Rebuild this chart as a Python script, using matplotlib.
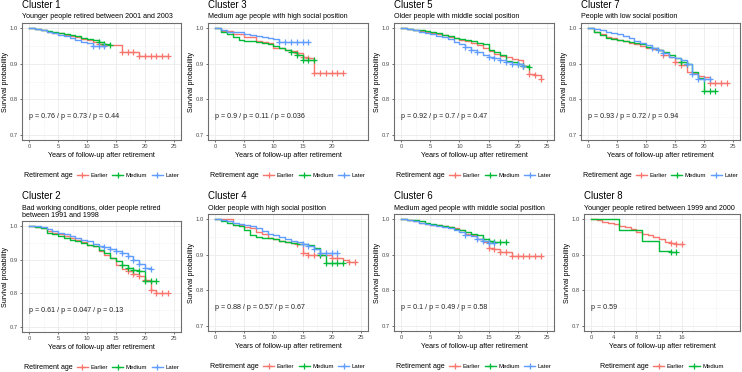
from matplotlib import pyplot as plt
from matplotlib.lines import Line2D
import numpy as np

plt.rcParams['font.family'] = ['Liberation Sans', 'DejaVu Sans']

W, H = 742, 372

# survival at each year (step at integer years), and censoring times
surv_c1 = {'Earlier': [1.0, 0.998, 0.995, 0.991, 0.988, 0.986, 0.982, 0.979, 0.975, 0.970, 0.966, 0.962, 0.957,
                       0.952, 0.952, 0.952, 0.933, 0.933, 0.933, 0.921, 0.921, 0.921, 0.921, 0.921, 0.921],
           'Medium': [1.0, 0.998, 0.996, 0.993, 0.99, 0.988, 0.985, 0.982, 0.978, 0.974, 0.97, 0.966, 0.961, 0.955, 0.952],
           'Later': [1.0, 0.997, 0.994, 0.99, 0.986, 0.982, 0.978, 0.973, 0.968, 0.962, 0.958, 0.95, 0.95, 0.95]}
cens_c1 = {'Earlier': [12, 13, 16, 17, 18, 19, 20, 21, 22, 23, 24],
           'Medium': [12, 13, 14],
           'Later': [11, 12, 13]}

surv_c3 = {'Earlier': [1.0, 0.993, 0.993, 0.983, 0.983, 0.975, 0.975, 0.965, 0.962, 0.958, 0.945, 0.945, 0.94,
                       0.935, 0.93, 0.92, 0.917, 0.875, 0.875, 0.875, 0.875, 0.875, 0.875],
           'Medium': [1.0, 0.99, 0.985, 0.975, 0.968, 0.965, 0.963, 0.962, 0.96, 0.955, 0.95, 0.945, 0.94, 0.932,
                      0.925, 0.91, 0.91, 0.91],
           'Later': [1.0, 0.995, 0.99, 0.99, 0.99, 0.985, 0.98, 0.978, 0.975, 0.972, 0.97, 0.962, 0.962, 0.962,
                     0.962, 0.962, 0.962]}
cens_c3 = {'Earlier': [14, 15, 16, 17, 18, 19, 20, 21, 22],
           'Medium': [13, 14, 15, 16, 17],
           'Later': [11, 12, 13, 14, 15, 16]}

surv_c5 = {'Earlier': [1.0, 0.998, 0.996, 0.993, 0.99, 0.987, 0.984, 0.98, 0.976, 0.972, 0.968, 0.964, 0.96, 0.953,
                       0.945, 0.937, 0.928, 0.922, 0.918, 0.914, 0.91, 0.895, 0.87, 0.868, 0.856],
           'Medium': [1.0, 0.998, 0.996, 0.994, 0.992, 0.99, 0.986, 0.982, 0.978, 0.974, 0.97, 0.968, 0.965, 0.96,
                      0.955, 0.94, 0.932, 0.925, 0.908, 0.905, 0.9, 0.893, 0.892],
           'Later': [1.0, 0.997, 0.994, 0.99, 0.987, 0.983, 0.979, 0.975, 0.97, 0.962, 0.955, 0.948, 0.94, 0.933,
                     0.925, 0.92, 0.915, 0.91, 0.905, 0.9, 0.898, 0.895]}
cens_c5 = {'Earlier': [21, 22, 23, 24],
           'Medium': [20, 21, 22],
           'Later': [11, 12, 13, 15, 16, 17, 18, 19, 20, 21]}

surv_c7 = {'Earlier': [1.0, 0.99, 0.985, 0.975, 0.972, 0.967, 0.965, 0.96, 0.955, 0.95, 0.945, 0.942, 0.94, 0.925,
                       0.92, 0.905, 0.897, 0.878, 0.875, 0.865, 0.862, 0.845, 0.845, 0.845, 0.845],
           'Medium': [1.0, 0.99, 0.982, 0.972, 0.97, 0.967, 0.965, 0.962, 0.96, 0.955, 0.948, 0.944, 0.94, 0.932,
                      0.925, 0.915, 0.905, 0.9, 0.878, 0.86, 0.822, 0.822, 0.822],
           'Later': [1.0, 0.998, 0.995, 0.99, 0.988, 0.983, 0.978, 0.972, 0.965, 0.958, 0.952, 0.945, 0.94, 0.93,
                     0.92, 0.915, 0.91, 0.9, 0.87, 0.858, 0.858, 0.856]}
cens_c7 = {'Earlier': [13, 15, 16, 21, 22, 23, 24],
           'Medium': [16, 17, 20, 21, 22],
           'Later': [11, 12, 13, 17, 18, 19, 20, 21]}

surv_c2 = {'Earlier': [1.0, 0.998, 0.995, 0.985, 0.978, 0.975, 0.97, 0.965, 0.96, 0.952, 0.945, 0.94, 0.925, 0.915,
                       0.905, 0.885, 0.873, 0.865, 0.857, 0.852, 0.84, 0.81, 0.802, 0.8, 0.8],
           'Medium': [1.0, 0.998, 0.993, 0.978, 0.975, 0.97, 0.965, 0.96, 0.955, 0.95, 0.945, 0.94, 0.93, 0.92,
                      0.905, 0.895, 0.885, 0.875, 0.868, 0.865, 0.838, 0.838, 0.838],
           'Later': [1.0, 0.999, 0.997, 0.992, 0.985, 0.98, 0.975, 0.97, 0.965, 0.96, 0.955, 0.948, 0.94, 0.938,
                     0.932, 0.925, 0.92, 0.91, 0.9, 0.888, 0.875, 0.873]}
cens_c2 = {'Earlier': [17, 18, 19, 20, 21, 22, 23, 24],
           'Medium': [16, 17, 18, 19, 20, 21, 22],
           'Later': [13, 14, 15, 16, 17, 18, 19, 20, 21]}

surv_c4 = {'Earlier': [1.0, 1.0, 1.0, 0.985, 0.985, 0.978, 0.975, 0.965, 0.96, 0.948, 0.945, 0.94, 0.935, 0.932,
                       0.93, 0.905, 0.9, 0.9, 0.9, 0.9, 0.89, 0.89, 0.885, 0.88, 0.88],
           'Medium': [1.0, 0.995, 0.99, 0.985, 0.98, 0.97, 0.957, 0.95, 0.948, 0.948, 0.945, 0.94, 0.935, 0.932,
                      0.93, 0.93, 0.928, 0.92, 0.9, 0.877, 0.877, 0.877, 0.877],
           'Later': [1.0, 0.998, 0.995, 0.99, 0.988, 0.985, 0.98, 0.975, 0.968, 0.96, 0.955, 0.95, 0.945, 0.94,
                     0.935, 0.93, 0.925, 0.915, 0.905, 0.905, 0.905, 0.905]}
cens_c4 = {'Earlier': [14, 15, 16, 17, 18, 20, 21, 23, 24],
           'Medium': [18, 19, 20, 21, 22],
           'Later': [15, 16, 17, 18, 19, 20, 21]}

surv_c6 = {'Earlier': [1.0, 0.998, 0.995, 0.99, 0.988, 0.985, 0.983, 0.98, 0.978, 0.975, 0.97, 0.96, 0.955, 0.945,
                       0.935, 0.92, 0.915, 0.908, 0.908, 0.897, 0.897, 0.897, 0.897, 0.897, 0.897],
           'Medium': [1.0, 0.999, 0.997, 0.995, 0.99, 0.987, 0.983, 0.98, 0.977, 0.973, 0.97, 0.965, 0.96, 0.955,
                      0.945, 0.938, 0.936, 0.935, 0.935],
           'Later': [1.0, 0.998, 0.995, 0.99, 0.987, 0.983, 0.98, 0.978, 0.975, 0.97, 0.965, 0.955, 0.953, 0.945,
                     0.94, 0.932, 0.932]}
cens_c6 = {'Earlier': [15, 16, 17, 18, 19, 20, 21, 22, 23, 24],
           'Medium': [14, 15, 16, 17, 18],
           'Later': [11, 13, 14, 15, 16]}

surv_c8 = {'Earlier': [1.0, 0.998, 0.993, 0.99, 0.988, 0.98, 0.978, 0.972, 0.965, 0.96, 0.955, 0.95, 0.945,
                       0.937, 0.933, 0.931, 0.93],
           'Medium': [1.0, 1.0, 1.0, 1.0, 1.0, 0.969, 0.969, 0.969, 0.969, 0.94, 0.94, 0.94, 0.91, 0.91, 0.909, 0.908]}
cens_c8 = {'Earlier': [14, 15, 16],
           'Medium': [14, 15]}

titles = ['Cluster 1', 'Cluster 3', 'Cluster 5', 'Cluster 7', 'Cluster 2', 'Cluster 4', 'Cluster 6', 'Cluster 8']
subtitles = ['Younger people retired between 2001 and 2003',
             'Medium age people with high social position',
             'Older people with middle social position',
             'People with low social position',
             'Bad working conditions, older people retired\nbetween 1991 and 1998',
             'Older people with high social position',
             'Medium aged people with middle social position',
             'Younger people retired between 1999 and 2000']
pvals = ['p = 0.76 / p = 0.73 / p = 0.44', 'p = 0.9 / p = 0.11 / p = 0.036', 'p = 0.92 / p = 0.7 / p = 0.47',
         'p = 0.93 / p = 0.72 / p = 0.94', 'p = 0.61 / p = 0.047 / p = 0.13', 'p = 0.88 / p = 0.57 / p = 0.67',
         'p = 0.1 / p = 0.49 / p = 0.58', 'p = 0.59']
xticks = [[0, 5, 10, 15, 20, 25], [0, 5, 10, 15, 20], [0, 5, 10, 15, 20, 25], [0, 5, 10, 15, 20, 25],
          [0, 5, 10, 15, 20, 25], [0, 5, 10, 15, 20, 25], [0, 5, 10, 15, 20, 25], [0, 4, 8, 12, 16]]
survs = [surv_c1, surv_c3, surv_c5, surv_c7, surv_c2, surv_c4, surv_c6, surv_c8]
censs = [cens_c1, cens_c3, cens_c5, cens_c7, cens_c2, cens_c4, cens_c6, cens_c8]

colors = {'Earlier': '#F8766D', 'Medium': '#00BA38', 'Later': '#619CFF'}

# panel boxes in pixels: left, top, right, bottom
boxes = [(22, 23, 181, 140), (208, 23, 368, 140), (394, 23, 554, 140), (581, 23, 740, 140),
         (22, 221, 181, 332), (208, 214, 368, 331), (394, 214, 554, 331), (584, 214, 740, 331)]


# ----------------------------------------------------------------------------------------------------
def fx(x):
    return x / W


def fy(y):
    return 1 - y / H


# ----------------------------------------------------------------------------------------------------
def text_width(fig, txt):

    r = fig.canvas.get_renderer()
    return txt.get_window_extent(renderer=r).width


# ----------------------------------------------------------------------------------------------------
def add_legend(fig, xc, yc, groups):

    # measure everything first, then centre the row under the panel
    parts = []
    t0 = fig.text(0, fy(yc), 'Retirement age', fontsize=5.1, ha='left', va='center')
    parts.append(('text', t0, text_width(fig, t0)))
    for g in groups:
        parts.append(('line', g, 11))
        tg = fig.text(0, fy(yc), g, fontsize=4.3, ha='left', va='center')
        parts.append(('text', tg, text_width(fig, tg)))
    gaps = []
    for k in range(len(parts) - 1):
        if parts[k][0] == 'text':
            gaps.append(4.5)
        else:
            gaps.append(2.5)
    total = sum(p[2] for p in parts) + sum(gaps)
    x = xc - total / 2
    for k, p in enumerate(parts):
        if p[0] == 'text':
            p[1].set_x(fx(x))
        else:
            c = colors[p[1]]
            fig.add_artist(Line2D([fx(x), fx(x + 11)], [fy(yc), fy(yc)], color=c, lw=1.0,
                                  transform=fig.transFigure))
            fig.add_artist(Line2D([fx(x + 5.5)], [fy(yc)], color=c, marker='+', ms=4, mew=0.9,
                                  transform=fig.transFigure))
        x += p[2]
        if k < len(gaps):
            x += gaps[k]


# ----------------------------------------------------------------------------------------------------
def plot_clusters():

    fig = plt.figure(figsize=(W / 100, H / 100), dpi=100)

    for i in range(8):
        l, t, r, b = boxes[i]
        ax = fig.add_axes([fx(l), fy(b), (r - l) / W, (b - t) / H])

        ax.set_xlim(-1.25, 26.25)
        ax.set_ylim(0.685, 1.015)
        ax.set_xticks(xticks[i])
        ax.set_yticks([0.7, 0.8, 0.9, 1.0])
        step = xticks[i][1] - xticks[i][0]
        ax.set_xticks(np.arange(step / 2, 26, step), minor=True)
        ax.set_yticks([0.75, 0.85, 0.95], minor=True)
        ax.grid(which='major', color='#EBEBEB', lw=0.6)
        ax.grid(which='minor', color='#F4F4F4', lw=0.4)
        ax.set_axisbelow(True)
        for sp in ax.spines.values():
            sp.set_color('#6E6E6E')
            sp.set_linewidth(0.8)
        ax.tick_params(which='major', length=1.5, width=0.5, color='#333333', labelsize=4.2,
                       labelcolor='#4D4D4D', pad=1.2)
        ax.tick_params(which='minor', length=0)
        ax.set_yticklabels(['0.7', '0.8', '0.9', '1.0'])

        for g, s in survs[i].items():
            tt = np.arange(len(s))
            ax.step(tt, s, where='post', color=colors[g], lw=1.0)
            cy = [s[int(c)] for c in censs[i][g]]
            ax.plot(censs[i][g], cy, ls='none', marker='+', ms=4, mew=0.9, color=colors[g])

        ax.text(0, 0.75, pvals[i], fontsize=5.1, ha='left', va='center', color='#222222')

        # titles
        if i < 4:
            ty, sy = 8.3, 18.0
        else:
            ty, sy = 199.3, 209.8
        fig.text(fx(l), fy(ty), titles[i], fontsize=6.9, ha='left', va='baseline')
        for k, line in enumerate(subtitles[i].split('\n')):
            fig.text(fx(l), fy(sy + 7.0 * k), line, fontsize=5.1, ha='left', va='baseline')

        xc = (l + r) / 2
        fig.text(fx(xc), fy(b + 15.5), 'Years of follow-up after retirement', fontsize=5.1, ha='center', va='center')
        fig.text(fx(l - 16.5), fy((t + b) / 2), 'Survival probability', fontsize=5.1, ha='center', va='center',
                 rotation=90)
        add_legend(fig, xc, b + 35.3, list(survs[i].keys()))

    fig.savefig('out.png', dpi=100)


# ----------------------------------------------------------------------------------------------------
if __name__ == '__main__':

    plot_clusters()
